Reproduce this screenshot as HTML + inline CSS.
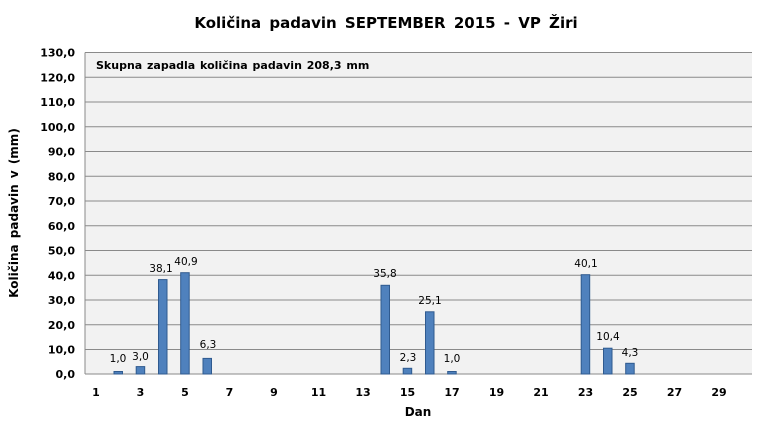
<!DOCTYPE html>
<html><head><meta charset="utf-8"><style>
body{margin:0;background:#fff;}
text{font-family:"DejaVu Sans","Liberation Sans",sans-serif;}
</style></head><body>
<svg width="768" height="439" xmlns="http://www.w3.org/2000/svg">
<rect width="768" height="439" fill="#fff"/>
<text x="386" y="28" text-anchor="middle" font-size="15" font-weight="bold" fill="#000" word-spacing="3">Količina padavin  SEPTEMBER 2015 - VP Žiri</text>
<rect x="85" y="52.5" width="667" height="321.5" fill="#f2f2f2"/>
<g stroke="#8a8a8a" stroke-width="1">
<line x1="85" x2="752" y1="52.5" y2="52.5"/><line x1="85" x2="752" y1="77.3" y2="77.3"/><line x1="85" x2="752" y1="102" y2="102"/><line x1="85" x2="752" y1="126.8" y2="126.8"/><line x1="85" x2="752" y1="151.5" y2="151.5"/><line x1="85" x2="752" y1="176.3" y2="176.3"/><line x1="85" x2="752" y1="201" y2="201"/><line x1="85" x2="752" y1="225.8" y2="225.8"/><line x1="85" x2="752" y1="250.5" y2="250.5"/><line x1="85" x2="752" y1="275.3" y2="275.3"/><line x1="85" x2="752" y1="300" y2="300"/><line x1="85" x2="752" y1="324.8" y2="324.8"/><line x1="85" x2="752" y1="349.5" y2="349.5"/>
<line x1="85" x2="752" y1="374" y2="374"/><line x1="85" x2="85" y1="52.5" y2="374"/>
</g>
<g font-size="11" font-weight="bold" text-anchor="end" fill="#000">
<text x="75" y="56.5">130,0</text><text x="75" y="81.3">120,0</text><text x="75" y="106">110,0</text><text x="75" y="130.8">100,0</text><text x="75" y="155.5">90,0</text><text x="75" y="180.3">80,0</text><text x="75" y="205">70,0</text><text x="75" y="229.8">60,0</text><text x="75" y="254.5">50,0</text><text x="75" y="279.3">40,0</text><text x="75" y="304">30,0</text><text x="75" y="328.8">20,0</text><text x="75" y="353.5">10,0</text><text x="75" y="378">0,0</text>
</g>
<g font-size="11" font-weight="bold" text-anchor="middle" fill="#000">
<text x="96" y="396">1</text><text x="140.5" y="396">3</text><text x="185" y="396">5</text><text x="229.5" y="396">7</text><text x="274" y="396">9</text><text x="318.5" y="396">11</text><text x="363" y="396">13</text><text x="407.5" y="396">15</text><text x="452" y="396">17</text><text x="496.5" y="396">19</text><text x="541" y="396">21</text><text x="585.5" y="396">23</text><text x="630" y="396">25</text><text x="674.5" y="396">27</text><text x="719" y="396">29</text>
<text x="418" y="416" font-size="12">Dan</text>
</g>
<text transform="translate(18,213) rotate(-90)" text-anchor="middle" font-size="12" font-weight="bold" word-spacing="2">Količina padavin v  (mm)</text>
<text x="96" y="69" font-size="11" font-weight="bold" word-spacing="1">Skupna zapadla količina padavin  208,3 mm</text>
<g fill="#4f81bd" stroke="#2f5a8f" stroke-width="1">
<rect x="114" y="371.5" width="8.5" height="2.5"/>
<rect x="136.2" y="366.6" width="8.5" height="7.4"/>
<rect x="158.5" y="279.6" width="8.5" height="94.4"/>
<rect x="180.7" y="272.7" width="8.5" height="101.3"/>
<rect x="203" y="358.4" width="8.5" height="15.6"/>
<rect x="381" y="285.3" width="8.5" height="88.7"/>
<rect x="403.2" y="368.3" width="8.5" height="5.7"/>
<rect x="425.5" y="311.8" width="8.5" height="62.2"/>
<rect x="447.7" y="371.5" width="8.5" height="2.5"/>
<rect x="581.2" y="274.7" width="8.5" height="99.3"/>
<rect x="603.5" y="348.2" width="8.5" height="25.8"/>
<rect x="625.7" y="363.3" width="8.5" height="10.7"/>
</g>
<g font-size="10.5" text-anchor="middle" fill="#000">
<text x="118" y="362">1,0</text><text x="140.5" y="360">3,0</text><text x="161" y="272">38,1</text><text x="186" y="265">40,9</text><text x="208" y="348">6,3</text><text x="385" y="277">35,8</text><text x="408" y="361">2,3</text><text x="430" y="304">25,1</text><text x="452" y="362">1,0</text><text x="586" y="267">40,1</text><text x="608" y="340">10,4</text><text x="630" y="356">4,3</text>
</g>
</svg>
</body></html>
